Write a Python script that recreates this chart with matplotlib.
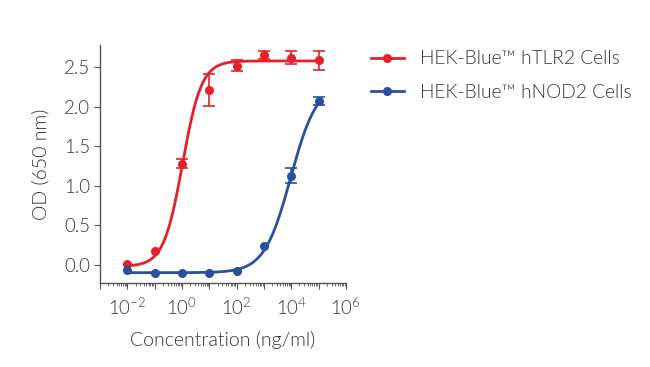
import numpy as np
import matplotlib
matplotlib.use("Agg")
import matplotlib.pyplot as plt
from matplotlib.ticker import LogLocator, FixedLocator, NullFormatter

plt.rcParams['font.family'] = ['Lato', 'DejaVu Sans']
plt.rcParams['font.weight'] = 300
plt.rcParams['axes.labelweight'] = 300
plt.rcParams['mathtext.fontset'] = 'custom'
plt.rcParams['mathtext.rm'] = 'Lato:weight=300'
plt.rcParams['mathtext.it'] = 'Lato:weight=300'
plt.rcParams['mathtext.default'] = 'rm'

# measured points
conc = [0.01, 0.1, 1, 10, 100, 1000, 10000, 100000]
tlr2_od = [0.01, 0.18, 1.28, 2.21, 2.52, 2.65, 2.62, 2.59]
tlr2_err = [0.0, 0.0, 0.06, 0.2, 0.07, 0.05, 0.08, 0.12]
nod2_od = [-0.07, -0.1, -0.1, -0.1, -0.08, 0.24, 1.13, 2.07]
nod2_err = [0.0, 0.0, 0.0, 0.0, 0.0, 0.0, 0.1, 0.05]

# 4PL fit parameters: bottom, top, ec50, hill
tlr2_fit = (-0.02, 2.58, 1.05, 1.25)
nod2_fit = (-0.1, 2.3, 9500, 0.9)

labels = ["HEK-Blue\u2122 hTLR2 Cells", "HEK-Blue\u2122 hNOD2 Cells"]
RED = "#e5202a"
BLUE = "#2a4f9c"
TXT = "#333333"


def logistic(x, p):
    bottom, top, ec50, hill = p
    return bottom + (top - bottom) / (1 + (ec50 / x) ** hill)


fig = plt.figure(figsize=(6.5, 3.67), dpi=100)
ax = fig.add_axes([0.154, 0.229, 0.378, 0.648])

xs = np.logspace(-2, 5, 300)
for od, err, p, col, lab in [(tlr2_od, tlr2_err, tlr2_fit, RED, labels[0]),
                             (nod2_od, nod2_err, nod2_fit, BLUE, labels[1])]:
    ax.plot(xs, logistic(xs, p), color=col, lw=2)
    ax.plot(conc, od, 'o', color=col, ms=5.5)
    # only the points with a visible spread get bars
    ex = [c for c, e in zip(conc, err) if e > 0]
    ey = [o for o, e in zip(od, err) if e > 0]
    ee = [e for e in err if e > 0]
    ax.errorbar(ex, ey, yerr=ee, fmt='none', ecolor=col, elinewidth=1.2,
                capsize=4, capthick=1.2)
    # legend proxy
    ax.plot([], [], color=col, lw=2, marker='o', ms=5.5, label=lab)

ax.set_xscale('log')
ax.set_xlim(1e-3, 1e6)
ax.set_ylim(-0.23, 2.78)
ax.set_yticks([0.0, 0.5, 1.0, 1.5, 2.0, 2.5])
ax.set_yticklabels(["0.0", "0.5", "1.0", "1.5", "2.0", "2.5"])
major = [1e-3, 1e-2, 1e-1, 1, 10, 100, 1e3, 1e4, 1e5, 1e6]
ax.xaxis.set_major_locator(FixedLocator(major))
ax.xaxis.set_minor_locator(LogLocator(base=10, subs=np.arange(2, 10), numticks=20))
ax.xaxis.set_minor_formatter(NullFormatter())
ax.set_xticklabels(["", "10$^{-2}$", "", "10$^{0}$", "", "10$^{2}$",
                    "", "10$^{4}$", "", "10$^{6}$"])

for s in ['top', 'right']:
    ax.spines[s].set_visible(False)
for s in ['left', 'bottom']:
    ax.spines[s].set_color('#555555')
    ax.spines[s].set_linewidth(1)

ax.tick_params(axis='both', which='major', length=4, color='#555555',
               labelcolor=TXT, labelsize=13.5)
ax.tick_params(axis='x', which='minor', length=2, color='#555555')
ax.tick_params(axis='x', which='major', pad=6)
ax.tick_params(axis='y', which='major', pad=3)

ax.set_xlabel("Concentration (ng/ml)", fontsize=14, color=TXT, labelpad=9, fontweight=300)
ax.set_ylabel("OD (650 nm)", fontsize=14, color=TXT, labelpad=11, fontweight=300)

leg = ax.legend(loc='upper left', bbox_to_anchor=(1.07, 1.01), frameon=False,
                fontsize=13.8, handlelength=1.75, handletextpad=0.8, labelspacing=0.85,
                borderaxespad=0)
for t in leg.get_texts():
    t.set_color(TXT)

fig.savefig("out.png", dpi=100)
